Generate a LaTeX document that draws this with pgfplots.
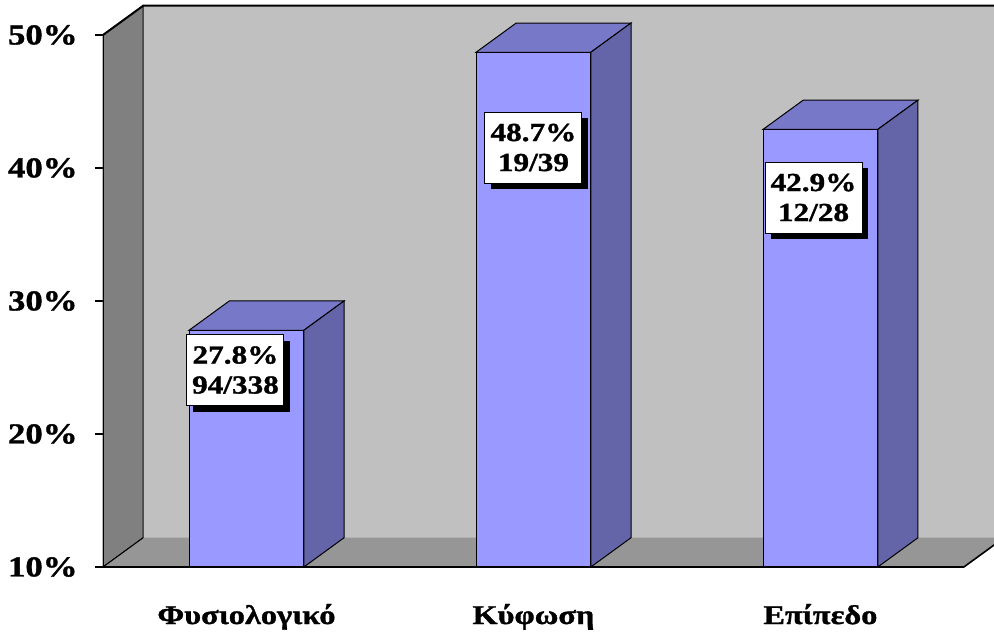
\documentclass[border=0pt]{standalone}
\usepackage{pgfplots}
\pgfplotsset{compat=1.18}
\usepackage{fontspec}
\setmainfont{Liberation Serif}
\newfontfamily\cf{Liberation Serif}[FakeStretch=1.2, BoldFeatures={FakeBold=1.2}]
\usetikzlibrary{shadows}
\definecolor{wallback}{RGB}{192,192,192}
\definecolor{wallside}{RGB}{128,128,128}
\definecolor{floorc}{RGB}{150,150,150}
\definecolor{barfront}{RGB}{153,153,255}
\definecolor{bartop}{RGB}{120,120,200}
\definecolor{barside}{RGB}{100,100,168}
\tikzset{lab/.style={fill=white, draw=black, line width=0.5pt, align=center,
    font=\cf\fontsize{13}{15}\selectfont\bfseries, minimum width=48.5pt, minimum height=35.5pt, inner sep=2pt,
    drop shadow={shadow xshift=3pt, shadow yshift=-3pt, opacity=1, fill=black}}}
\begin{document}
\begin{tikzpicture}
\begin{axis}[
  at={(0,0)}, anchor=south west,
  scale only axis, width=445.5pt, height=281.3pt,
  xmin=0, xmax=3.105, ymin=10, ymax=52.3,
  axis line style={draw=none},
  ytick={10,20,30,40,50}, yticklabels={10\%,20\%,30\%,40\%,50\%},
  ytick pos=left, ytick style={black, line width=1pt},
  tick align=outside, major tick length=4pt,
  xtick={0.5,1.5,2.5}, xticklabels={Φυσιολογικό,Κύφωση,Επίπεδο},
  xtick style={draw=none},
  /pgf/number format/assume math mode=true,
  yticklabel style={font=\cf\fontsize{14.5}{18}\selectfont\bfseries, anchor=east, inner sep=0pt, xshift=-8.5pt},
  xticklabel style={font=\cf\fontsize{13.5}{18}\selectfont\bfseries, anchor=base, inner sep=0pt, yshift=-24.5pt},
]
% walls
\addplot[fill=wallside, draw=black, line width=0.5pt] coordinates {(0,10) (0.14,12.2) (0.14,52.2) (0,50)} -- cycle;
\addplot[fill=wallback, draw=none] coordinates {(0.14,12.2) (3.3,12.2) (3.3,52.2) (0.14,52.2)} -- cycle;
\addplot[fill=floorc, draw=none] coordinates {(0,10) (3,10) (3.14,12.2) (0.14,12.2)} -- cycle;
\addplot[draw=black!70, line width=0.4pt] coordinates {(0.14,12.2) (0.14,52.2)};
\addplot[draw=black, line width=1pt] coordinates {(0,50) (0.14,52.2) (3.3,52.2)};
\addplot[draw=black, line width=0.8pt] coordinates {(3,10) (3.14,12.2)};
\addplot[draw=black, line width=0.5pt] coordinates {(0,10) (0.14,12.2)};
% bar 1: 27.8
\addplot[fill=barfront, draw=black, line width=0.5pt] coordinates {(0.3,10) (0.7,10) (0.7,27.8) (0.3,27.8)} -- cycle;
\addplot[fill=bartop, draw=black, line width=0.5pt] coordinates {(0.3,27.8) (0.7,27.8) (0.84,30.0) (0.44,30.0)} -- cycle;
\addplot[fill=barside, draw=black, line width=0.5pt] coordinates {(0.7,10) (0.84,12.2) (0.84,30.0) (0.7,27.8)} -- cycle;
% bar 2: 48.7
\addplot[fill=barfront, draw=black, line width=0.5pt] coordinates {(1.3,10) (1.7,10) (1.7,48.7) (1.3,48.7)} -- cycle;
\addplot[fill=bartop, draw=black, line width=0.5pt] coordinates {(1.3,48.7) (1.7,48.7) (1.84,50.9) (1.44,50.9)} -- cycle;
\addplot[fill=barside, draw=black, line width=0.5pt] coordinates {(1.7,10) (1.84,12.2) (1.84,50.9) (1.7,48.7)} -- cycle;
% bar 3: 42.9
\addplot[fill=barfront, draw=black, line width=0.5pt] coordinates {(2.3,10) (2.7,10) (2.7,42.9) (2.3,42.9)} -- cycle;
\addplot[fill=bartop, draw=black, line width=0.5pt] coordinates {(2.3,42.9) (2.7,42.9) (2.84,45.1) (2.44,45.1)} -- cycle;
\addplot[fill=barside, draw=black, line width=0.5pt] coordinates {(2.7,10) (2.84,12.2) (2.84,45.1) (2.7,42.9)} -- cycle;
% axis line and front floor edge
\addplot[draw=black, line width=1pt] coordinates {(0,50) (0,10) (3,10)};
% labels
\node[lab] at (axis cs:0.4617,24.81) {27.8\%\\94/338};
\node[lab] at (axis cs:1.5,41.54) {48.7\%\\19/39};
\node[lab] at (axis cs:2.476,37.78) {42.9\%\\12/28};
\end{axis}
\pgfresetboundingbox
\path[use as bounding box] (-51.5pt,-32.5pt) rectangle (445.5pt,283.5pt);
\end{tikzpicture}
\end{document}
